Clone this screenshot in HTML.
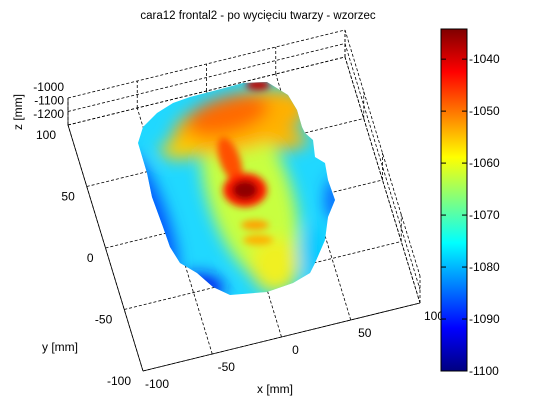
<!DOCTYPE html>
<html><head><meta charset="utf-8"><style>
html,body{margin:0;padding:0;background:#fff;}
svg{display:block;font-family:"Liberation Sans",sans-serif;}
</style></head><body>
<svg id="chart" width="539" height="410" viewBox="0 0 539 410">
<defs>
<linearGradient id="jet" x1="0" y1="1" x2="0" y2="0">
<stop offset="0" stop-color="#000080"/><stop offset="0.125" stop-color="#0000ff"/>
<stop offset="0.375" stop-color="#00ffff"/><stop offset="0.625" stop-color="#ffff00"/>
<stop offset="0.875" stop-color="#ff0000"/><stop offset="1" stop-color="#800000"/>
</linearGradient>
<clipPath id="faceClip"><polygon points="243,83 267,82 280,90 288,95 297,110 302,127 305,133 313,140 315,157 325,163 328,180 335,200 328,217 325,240 315,263 310,273 293,283 267,292 230,295 213,287 197,273 180,263 170,247 163,227 152,197 147,173 138,143 143,127 157,113 173,103 190,97 217,90"/></clipPath>
<filter id="blur" x="-50%" y="-50%" width="200%" height="200%"><feGaussianBlur stdDeviation="8"/></filter>
<filter id="blur2" x="-50%" y="-50%" width="200%" height="200%"><feGaussianBlur stdDeviation="3.5"/></filter>
</defs>
<text x="258" y="19" font-size="11.5" text-anchor="middle" fill="#000">cara12 frontal2 - po wycięciu twarzy - wzorzec</text>
<g id="grid"></g>
<g clip-path="url(#faceClip)">
<rect x="130" y="75" width="210" height="230" fill="#20d8ff"/>
<g filter="url(#blur)">
<ellipse cx="250" cy="195" rx="42" ry="92" transform="rotate(-18 250 195)" fill="#c8ff40"/>
<ellipse cx="275" cy="265" rx="24" ry="28" fill="#f0f020"/>
<ellipse cx="240" cy="122" rx="70" ry="28" transform="rotate(-15 240 122)" fill="#ffb000"/>
<ellipse cx="228" cy="115" rx="42" ry="18" transform="rotate(-15 228 115)" fill="#ff6a00"/>
<ellipse cx="180" cy="150" rx="20" ry="9" fill="#ffd000"/>
<ellipse cx="288" cy="140" rx="20" ry="9" fill="#ffb800"/>
<ellipse cx="152" cy="215" rx="14" ry="65" transform="rotate(-20 152 215)" fill="#0050ff"/>
<ellipse cx="198" cy="288" rx="26" ry="14" fill="#0018f0"/>
<ellipse cx="334" cy="200" rx="7" ry="22" fill="#0040ff"/>
<ellipse cx="312" cy="252" rx="12" ry="28" fill="#00c8ff"/>
</g>
<g filter="url(#blur2)">
<ellipse cx="230" cy="160" rx="10" ry="24" transform="rotate(-20 230 160)" fill="#ff5000"/>
<ellipse cx="245" cy="190" rx="22" ry="17" fill="#ff1a00"/>
<ellipse cx="245" cy="190" rx="13" ry="10" fill="#900000"/>
<ellipse cx="255" cy="225" rx="14" ry="5" fill="#ffa000"/>
<ellipse cx="258" cy="240" rx="15" ry="5" fill="#ffb000"/>
<ellipse cx="258" cy="85" rx="12" ry="5" fill="#c00000"/>
</g>
</g>
<text x="275" y="393" font-size="12" text-anchor="middle">x [mm]</text>
<text x="60" y="351" font-size="12" text-anchor="middle">y [mm]</text>
<text x="22" y="112" font-size="12" text-anchor="middle" transform="rotate(-90 22 112)">z [mm]</text>
<rect x="441" y="29" width="26" height="342" fill="url(#jet)" stroke="#000" stroke-width="1"/>
<g id="cbticks"></g>
</svg>
<script>
const xTicks=[-100,-50,0,50,100];
const yTicks=[-100,-50,0,50,100];
const zTicks=[-1200,-1100,-1000];
const zLabels=["-1200","-1100","-1000"];
const cbTicks=[-1040,-1050,-1060,-1070,-1080,-1090,-1100];
const cbMin=-1100, cbMax=-1034.2;
const NS="http://www.w3.org/2000/svg";
const O=[143,371],Vx=[277,-68],Vy=[-75,-246],Vz=[0,-27];
function P(x,y,z){const a=(x+100)/200,b=(y+100)/200,c=(z+1200)/200;return [O[0]+a*Vx[0]+b*Vy[0]+c*Vz[0],O[1]+a*Vx[1]+b*Vy[1]+c*Vz[1]];}
const g=document.getElementById('grid');
function line(p,q,dash,name){const l=document.createElementNS(NS,'line');l.setAttribute('x1',p[0]);l.setAttribute('y1',p[1]);l.setAttribute('x2',q[0]);l.setAttribute('y2',q[1]);l.setAttribute('stroke','#000');l.setAttribute('stroke-width','0.8');if(dash)l.setAttribute('stroke-dasharray','3,2');


g.appendChild(l);}
function text(s,x,y,anchor,name){const t=document.createElementNS(NS,'text');t.setAttribute('x',x);t.setAttribute('y',y);t.setAttribute('font-size','12');t.setAttribute('text-anchor',anchor);t.textContent=s;


g.appendChild(t);return t;}
xTicks.forEach(x=>{line(P(x,-100,-1200),P(x,100,-1200),true,'grid-x');line(P(x,100,-1200),P(x,100,-1000),true,'grid-x-wall');});
yTicks.forEach(y=>{line(P(-100,y,-1200),P(100,y,-1200),true,'grid-y');line(P(100,y,-1200),P(100,y,-1000),true,'grid-y-wall');});
zTicks.forEach(z=>{line(P(-100,100,z),P(100,100,z),true,'grid-z');line(P(100,100,z),P(100,-100,z),true,'grid-z-wall');});
line(P(-100,-100,-1200),P(100,-100,-1200),false,'x-axis');
line(P(-100,-100,-1200),P(-100,100,-1200),false,'y-axis');
line(P(-100,100,-1200),P(-100,100,-1000),false,'z-axis');
xTicks.forEach(x=>{const p=P(x,-100,-1200);text(String(x),p[0]+14,p[1]+17,'middle','x-tick-label');});
yTicks.forEach(y=>{const p=P(-100,y,-1200);text(String(y),p[0]-12,p[1]+14,'end','y-tick-label');});
zTicks.forEach((z,i)=>{const p=P(-100,100,z);text(zLabels[i],p[0]-4,p[1]-7,'end','z-tick-label');});
const cb=document.getElementById('cbticks');
cbTicks.forEach(v=>{const y=371-(v-cbMin)/(cbMax-cbMin)*342;
[[441,446],[462,467]].forEach(s=>{const l=document.createElementNS(NS,'line');l.setAttribute('x1',s[0]);l.setAttribute('x2',s[1]);l.setAttribute('y1',y);l.setAttribute('y2',y);l.setAttribute('stroke','#000');


cb.appendChild(l);});
const t=document.createElementNS(NS,'text');t.setAttribute('x',469);t.setAttribute('y',y+4);t.setAttribute('font-size','12');t.textContent=String(v);


cb.appendChild(t);});
</script>
</body></html>
